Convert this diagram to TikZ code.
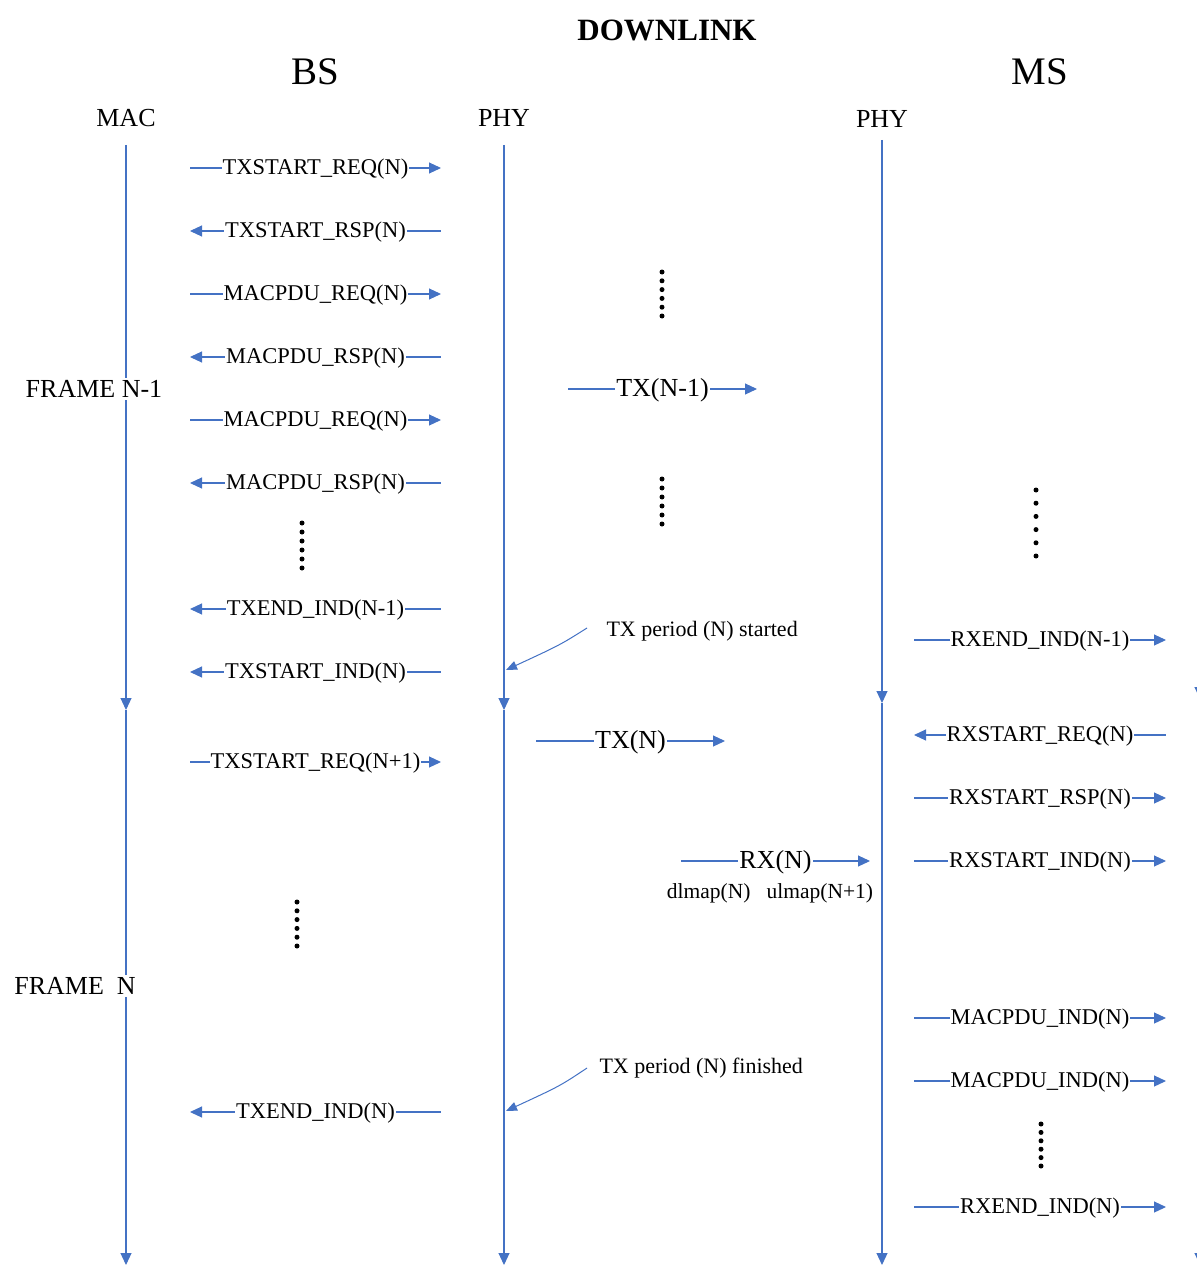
\documentclass[tikz,border=0pt]{standalone}
\usepackage{fontspec}
\setmainfont{Liberation Serif}
\usetikzlibrary{arrows.meta}
\definecolor{lblue}{HTML}{4472C4}
\tikzset{
  life/.style={draw=lblue, line width=1.1pt},
  msg/.style={draw=lblue, line width=1.1pt},
  tip/.style={-{Triangle[length=12pt,width=11pt]}},
  rtip/.style={{Triangle[length=12pt,width=11pt]}-},
  lbl/.style={fill=white, inner xsep=1pt, inner ysep=2pt, font=\fontsize{22.5}{24}\selectfont},
  big/.style={fill=white, inner xsep=1pt, inner ysep=2pt, font=\fontsize{26}{28}\selectfont},
  hdr/.style={font=\fontsize{26}{28}\selectfont},
  ttl/.style={font=\fontsize{39}{40}\selectfont},
  note/.style={font=\fontsize{22}{24}\selectfont, anchor=west},
  dotm/.style={fill=black},
}
% #1 name, #2 x-start, #3 x-end, #4 y, #5 style(lbl/big), #6 text
\newcommand{\msgR}[6]{%
  \coordinate (#1s) at (#2,#4); \coordinate (#1e) at (#3,#4);
  \draw[msg,tip] (#1s) -- (#1e);
  \node[#5] (#1) at ({(#2+#3)/2},#4+1) {#6};}
\newcommand{\msgL}[6]{%
  \coordinate (#1s) at (#2,#4); \coordinate (#1e) at (#3,#4);
  \draw[msg,rtip] (#1s) -- (#1e);
  \node[#5] (#1) at ({(#2+#3)/2},#4+1) {#6};}
\newcommand{\dotcol}[3]{% x, y0, step
  \foreach \i in {0,...,5} \fill[dotm] (#1,{#2+\i*#3}) circle (2.5);}
\begin{document}
\begin{tikzpicture}[x=1pt,y=-1pt]
\useasboundingbox (0,0) rectangle (1196,1265);
% titles
\node[font=\bfseries\fontsize{31}{32}\selectfont] (title) at (667,30) {DOWNLINK};
\node[ttl] (bs) at (315,72) {BS};
\node[ttl] (ms) at (1040,72) {MS};
\node[hdr] (mac1) at (126,118) {MAC};
\node[hdr] (phy1) at (504,118) {PHY};
\node[hdr] (phy2) at (882,119) {PHY};
% lifelines
\coordinate (a0) at (126,145); \coordinate (a1) at (126,710); \coordinate (a2) at (126,1265);
\coordinate (b0) at (504,145); \coordinate (b1) at (504,710); \coordinate (b2) at (504,1265);
\coordinate (c0) at (882,140); \coordinate (c1) at (882,703); \coordinate (c2) at (882,1265);
\coordinate (d0) at (1200,140); \coordinate (d1) at (1200,699); \coordinate (d2) at (1200,1265);
\foreach \p in {a,b,c,d}{
  \draw[life,tip] (\p0) -- (\p1);
  \draw[life,tip] (\p1) -- (\p2);
}
\node[big, inner xsep=0pt] (fn1) at (94,389) {FRAME N-1};
\node[big, inner xsep=0pt] (fn) at (75,986) {FRAME\ \ N};
% BS MAC <-> PHY
\msgR{m1}{190}{441}{168}{lbl}{TXSTART\_REQ(N)}
\msgL{m2}{190}{441}{231}{lbl}{TXSTART\_RSP(N)}
\msgR{m3}{190}{441}{294}{lbl}{MACPDU\_REQ(N)}
\msgL{m4}{190}{441}{357}{lbl}{MACPDU\_RSP(N)}
\msgR{m5}{190}{441}{420}{lbl}{MACPDU\_REQ(N)}
\msgL{m6}{190}{441}{483}{lbl}{MACPDU\_RSP(N)}
\msgL{m7}{190}{441}{609}{lbl}{TXEND\_IND(N-1)}
\msgL{m8}{190}{441}{672}{lbl}{TXSTART\_IND(N)}
\msgR{m9}{190}{441}{762}{lbl}{TXSTART\_REQ(N+1)}
\msgL{m10}{190}{441}{1112}{lbl}{TXEND\_IND(N)}
% PHY <-> PHY
\msgR{t1}{568}{757}{389}{big}{TX(N-1)}
\msgR{t2}{536}{725}{741}{big}{TX(N)}
\msgR{t3}{681}{870}{861}{big}{RX(N)}
\node[font=\fontsize{21.5}{24}\selectfont] (maps) at (770,893) {dlmap(N)\ \ \ ulmap(N+1)};
% MS PHY <-> MAC
\msgR{r1}{914}{1166}{640}{lbl}{RXEND\_IND(N-1)}
\msgL{r2}{914}{1166}{735}{lbl}{RXSTART\_REQ(N)}
\msgR{r3}{914}{1166}{798}{lbl}{RXSTART\_RSP(N)}
\msgR{r4}{914}{1166}{861}{lbl}{RXSTART\_IND(N)}
\msgR{r5}{914}{1166}{1018}{lbl}{MACPDU\_IND(N)}
\msgR{r6}{914}{1166}{1081}{lbl}{MACPDU\_IND(N)}
\msgR{r7}{914}{1166}{1207}{lbl}{RXEND\_IND(N)}
% annotations
\node[note] (ns) at (603,631) {TX period (N) started};
\node[note] (nf) at (596,1068) {TX period (N) finished};
\coordinate (ns0) at (587,628); \coordinate (ns1) at (506,670);
\coordinate (nf0) at (587,1068); \coordinate (nf1) at (506,1111);
\draw[msg,line width=1pt,-{Triangle[length=11pt,width=9pt]}] (ns0) .. controls (560,645) .. (ns1);
\draw[msg,line width=1pt,-{Triangle[length=11pt,width=9pt]}] (nf0) .. controls (560,1086) .. (nf1);
% dots
\dotcol{662}{272}{8.8}
\dotcol{662}{479}{9}
\dotcol{302}{523}{9}
\dotcol{297}{902}{8.8}
\dotcol{1036}{490}{13.2}
\dotcol{1041}{1124}{8.4}
\end{tikzpicture}
\end{document}
